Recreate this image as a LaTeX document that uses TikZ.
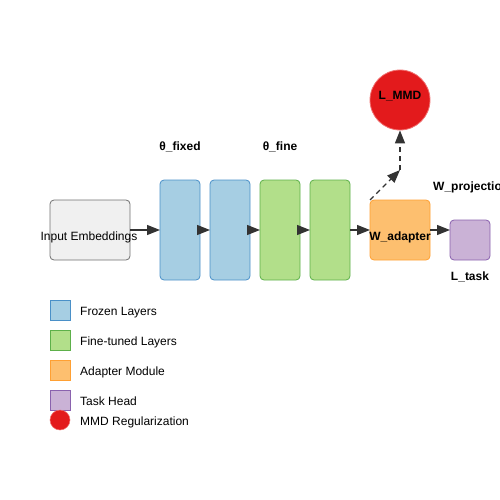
\documentclass[tikz,border=0pt]{standalone}
\usepackage{fontspec}
\setmainfont{Liberation Sans}
\usetikzlibrary{arrows.meta}
\definecolor{frozenF}{HTML}{A6CEE3}\definecolor{frozenD}{HTML}{4A90C8}
\definecolor{fineF}{HTML}{B2DF8A}\definecolor{fineD}{HTML}{5DB04A}
\definecolor{adaptF}{HTML}{FDBF6F}\definecolor{adaptD}{HTML}{FFA033}
\definecolor{taskF}{HTML}{CAB2D6}\definecolor{taskD}{HTML}{8A62AE}
\definecolor{mmdF}{HTML}{E31A1C}\definecolor{mmdD}{HTML}{F07070}
\definecolor{inF}{HTML}{F0F0F0}\definecolor{inD}{HTML}{707070}
\definecolor{arr}{HTML}{333333}
\tikzset{
  blk/.style={rounded corners=4pt, line width=0.8pt, inner sep=0pt, outer sep=0pt},
  frozen/.style={blk, fill=frozenF, draw=frozenD, minimum width=40pt, minimum height=100pt},
  fine/.style={blk, fill=fineF, draw=fineD, minimum width=40pt, minimum height=100pt},
  conn/.style={draw=arr, line width=1.3pt, -{Triangle[length=13pt,width=10pt]}},
  dconn/.style={conn, dashed, dash pattern=on 5pt off 4pt},
  lbl/.style={font=\fontsize{12pt}{14pt}\selectfont\bfseries, inner sep=0pt},
  txt/.style={font=\fontsize{12pt}{14pt}\selectfont, inner sep=0pt},
  legsq/.style={blk, rounded corners=0pt, minimum width=20pt, minimum height=20pt},
}
\begin{document}
\begin{tikzpicture}[x=1pt,y=-1pt]
\useasboundingbox (0,0) rectangle (500,500);
\node[blk, fill=inF, draw=inD, minimum width=80pt, minimum height=60pt] (inp) at (90,230) {};
\node[txt, anchor=base] (inpt) at (89,240) {Input Embeddings};
\node[frozen] (f1) at (180,230) {};
\node[frozen] (f2) at (230,230) {};
\node[fine] (g1) at (280,230) {};
\node[fine] (g2) at (330,230) {};
\node[blk, fill=adaptF, draw=adaptD, minimum width=60pt, minimum height=60pt] (ad) at (400,230) {};
\node[lbl, anchor=base] (adt) at (400,240) {W\_adapter};
\node[blk, fill=taskF, draw=taskD, minimum width=40pt, minimum height=40pt] (th) at (470,240) {};
\node[circle, fill=mmdF, draw=mmdD, line width=0.8pt, minimum size=60pt, inner sep=0pt] (mmd) at (400,100) {};
\node[lbl, anchor=base] (mmdt) at (400,100) {L\_MMD};
\node[lbl, anchor=base] (tf) at (180,150) {θ\_fixed};
\node[lbl, anchor=base] (tfi) at (280,150) {θ\_fine};
\node[lbl, anchor=base west] (wp) at (433,190) {W\_projection};
\node[lbl, anchor=base] (lt) at (470,280) {L\_task};
\coordinate (bend) at (400,170);
\draw[conn] (inp.east) -- (f1.west);
\draw[conn] (f1.east) -- (f2.west);
\draw[conn] (f2.east) -- (g1.west);
\draw[conn] (g1.east) -- (g2.west);
\draw[conn] (g2.east) -- (ad.west |- g2.east);
\draw[conn] (ad.east |- th.west) ++(0,-10) -- ++(20,0);
\draw[dconn] (ad.north west) -- (bend);
\draw[dconn] (bend) -- (mmd.south);
% legend
\node[legsq, fill=frozenF, draw=frozenD] (l1) at (60,310) {};
\node[legsq, fill=fineF, draw=fineD] (l2) at (60,340) {};
\node[legsq, fill=adaptF, draw=adaptD] (l3) at (60,370) {};
\node[legsq, fill=taskF, draw=taskD] (l4) at (60,400) {};
\node[circle, fill=mmdF, draw=mmdD, line width=0.5pt, minimum size=20pt, inner sep=0pt] (l5) at (60,420) {};
\node[txt, anchor=base west] (t1) at (80,315.5) {Frozen Layers};
\node[txt, anchor=base west] (t2) at (80,345.5) {Fine-tuned Layers};
\node[txt, anchor=base west] (t3) at (80,375.5) {Adapter Module};
\node[txt, anchor=base west] (t4) at (80,405.5) {Task Head};
\node[txt, anchor=base west] (t5) at (80,425.5) {MMD Regularization};
\end{tikzpicture}
\end{document}
